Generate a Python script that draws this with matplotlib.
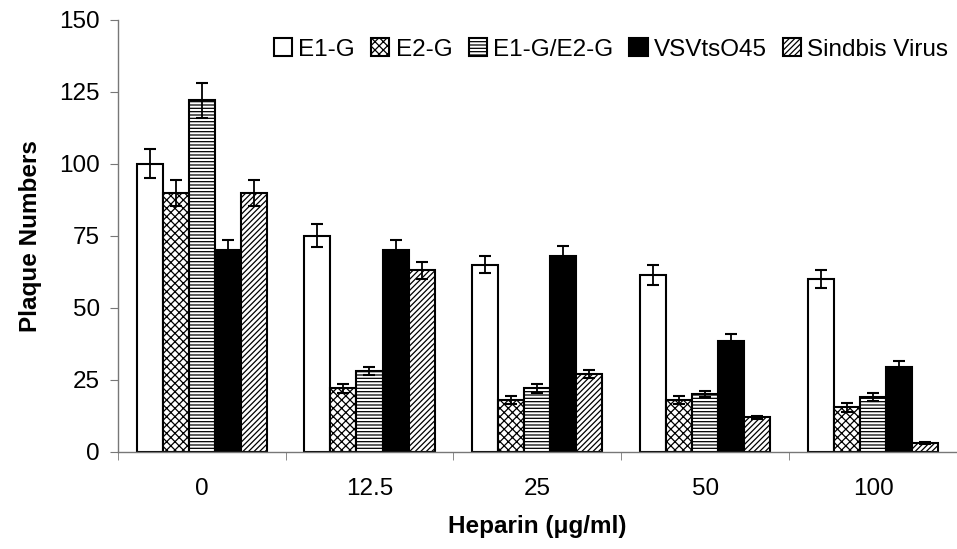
import numpy as np
import matplotlib.pyplot as plt

plt.rcParams['font.family'] = ['Liberation Sans', 'DejaVu Sans']
plt.rcParams['hatch.linewidth'] = 0.9

doses = ['0', '12.5', '25', '50', '100']
series = ['E1-G', 'E2-G', 'E1-G/E2-G', 'VSVtsO45', 'Sindbis Virus']
e1g = [100, 75, 65, 61.5, 60]
e2g = [90, 22, 18, 18, 15.5]
e1e2 = [122, 28, 22, 20, 19]
vsv = [70, 70, 68, 38.5, 29.5]
sindbis = [90, 63, 27, 12, 3]
e1g_err = [5, 4, 3, 3.5, 3]
e2g_err = [4.5, 1.5, 1.5, 1.5, 1.5]
e1e2_err = [6, 1.5, 1.5, 1, 1.5]
vsv_err = [3.5, 3.5, 3.5, 2.5, 2]
sindbis_err = [4.5, 3, 1.5, 0.6, 0.4]

values = [e1g, e2g, e1e2, vsv, sindbis]
errors = [e1g_err, e2g_err, e1e2_err, vsv_err, sindbis_err]
faces = ['white', 'white', 'white', 'black', 'white']
hatches = [None, 'xxxx', '-----', None, '//////']

fig = plt.figure(figsize=(9.57, 5.49), dpi=100)
ax = fig.add_axes([0.123, 0.177, 0.877, 0.787])

x = np.arange(len(doses))
w = 0.155
for i in range(5):
    pos = x + (i - 2) * w
    ax.bar(pos, values[i], w, color=faces[i], edgecolor='black', linewidth=1.5,
           hatch=hatches[i], label=series[i], zorder=2)
    ax.errorbar(pos, values[i], yerr=errors[i], fmt='none', ecolor='black',
                elinewidth=1.3, capsize=4.5, capthick=1.5, zorder=3)

ax.set_xlim(-0.5, len(doses) - 0.5)
ax.set_ylim(0, 150)
ax.set_yticks([0, 25, 50, 75, 100, 125, 150])
ax.set_xticks(x)
ax.set_xticklabels(doses)
ax.set_xticks(np.arange(-0.5, len(doses)), minor=True)
ax.tick_params(axis='x', which='major', length=0, pad=19, labelsize=17.5)
ax.tick_params(axis='x', which='minor', length=6, color='#777777')
ax.tick_params(axis='y', length=6, color='#777777', labelsize=17.5, pad=7)
for s in ['top', 'right']:
    ax.spines[s].set_visible(False)
for s in ['left', 'bottom']:
    ax.spines[s].set_color('#777777')
    ax.spines[s].set_linewidth(1)

ax.set_ylabel('Plaque Numbers', fontsize=17.5, fontweight='bold', labelpad=12)
ax.set_xlabel('Heparin (\u03bcg/ml)', fontsize=17.5, fontweight='bold', labelpad=11)

fig.legend(loc='upper left', bbox_to_anchor=(0.276, 0.948), ncol=5, frameon=False,
           fontsize=17.5, handlelength=0.75, handleheight=0.75, handletextpad=0.25,
           columnspacing=0.67, borderaxespad=0)

fig.savefig('out.png', dpi=100)
